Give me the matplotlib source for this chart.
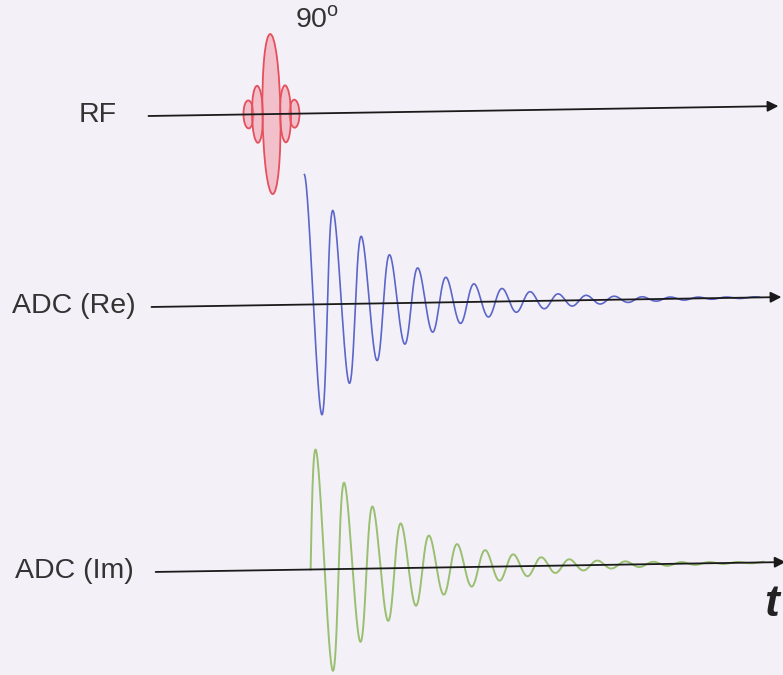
import numpy as np
import matplotlib
matplotlib.use('Agg')
import matplotlib.pyplot as plt
from matplotlib.patches import Ellipse, FancyArrowPatch
from matplotlib.transforms import Affine2D

plt.rcParams['font.family'] = ['Liberation Sans', 'DejaVu Sans']
plt.rcParams['mathtext.fontset'] = 'custom'
plt.rcParams['mathtext.rm'] = 'Liberation Sans'

# channels (slide pixel units, y down)
labels = ['RF', 'ADC (Re)', 'ADC (Im)']
label_x = [120, 136, 130]
baseline_y = [116, 307, 572]
line_x0 = 152
line_x1 = 782

# RF pulse lobes: offset from pulse centre, half height, width
pulse_x = 275
lobe_offset = [-23, 23, -14, 14, 0]
lobe_half_h = [14, 14, 28.5, 28.5, 80]
lobe_width = [10, 10, 11, 11, 18]

# FID
fid_t0 = 307        # start of acquisition
fid_amp = 130       # initial amplitude
fid_period = 28     # oscillation period
fid_decay = 85      # envelope time constant
fid_t1 = 760

tilt_deg = 0.9      # the slide photo is slightly rotated

W, H = 783, 675
fig = plt.figure(figsize=(W / 100, H / 100), dpi=100)
fig.patch.set_facecolor('#f4f0f8')
ax = fig.add_axes([0, 0, 1, 1])
ax.set_xlim(0, W)
ax.set_ylim(H, 0)
ax.axis('off')
ax.set_facecolor('#f4f0f8')

rot = ax.transData + Affine2D().rotate_deg_around(150, H - 340, tilt_deg)

# RF pulse
for off, hh, w in zip(lobe_offset, lobe_half_h, lobe_width):
    e = Ellipse((pulse_x + off, baseline_y[0]), w, 2 * hh, transform=rot,
                facecolor=(0.95, 0.6, 0.65, 0.55), edgecolor='#e4505c', lw=1.3, zorder=2)
    ax.add_patch(e)

# FID signals
t = np.linspace(fid_t0, fid_t1, 3000)
env = fid_amp * np.exp(-(t - fid_t0) / fid_decay)
phase = 2 * np.pi * (t - fid_t0) / fid_period
ax.plot(t, baseline_y[1] - env * np.cos(phase), color='#5b66c9', lw=1.2, transform=rot, zorder=2)
ax.plot(t, baseline_y[2] - env * np.sin(phase), color='#98c070', lw=1.4, transform=rot, zorder=2)

# time axes with arrows
for y in baseline_y:
    arr = FancyArrowPatch((line_x0, y), (line_x1, y), transform=rot,
                          arrowstyle='-|>', mutation_scale=16, color='#1a1a1a',
                          lw=1.3, shrinkA=0, shrinkB=0, zorder=3)
    ax.add_patch(arr)

for lab, lx, y in zip(labels, label_x, baseline_y):
    ax.text(lx, y - 1, lab, transform=rot, ha='right', va='center', fontsize=20.5, color='#333333')

ax.text(300, 22, '90$^{\\mathrm{o}}$', transform=rot, ha='left', va='center',
        fontsize=20.5, color='#333333')
ax.text(760, 614, 't', transform=rot, ha='left', va='center', fontsize=32,
        fontweight='bold', fontstyle='italic', color='#222222')

fig.savefig('out.png', dpi=100, facecolor=fig.get_facecolor())
